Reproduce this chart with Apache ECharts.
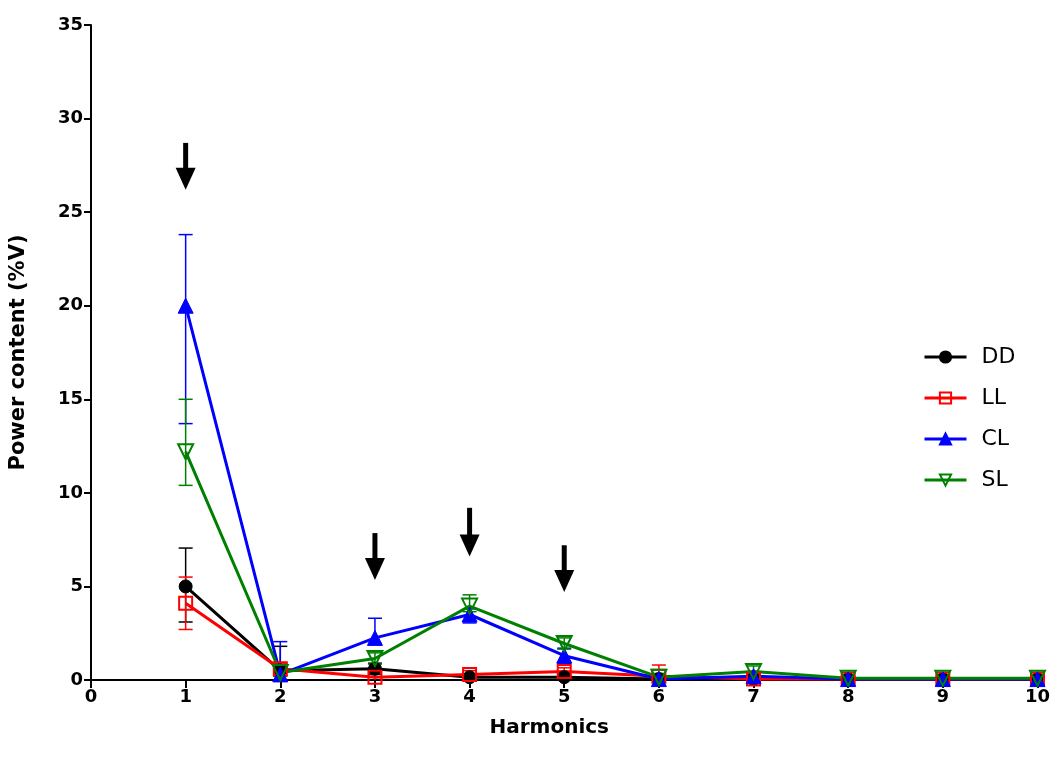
<!DOCTYPE html>
<html><head><meta charset="utf-8">
<script src="https://cdn.jsdelivr.net/npm/echarts@6/dist/echarts.min.js"></script>
<style>html,body{margin:0;padding:0;background:#fff}#c{width:1053px;height:763px}</style>
</head><body><div id="c"></div>
<script>
const harmonics = [1,2,3,4,5,6,7,8,9,10];
const xTicks = [0,1,2,3,4,5,6,7,8,9,10];
const yTicks = [0,5,10,15,20,25,30,35];
const seriesNames = ['DD','LL','CL','SL'];
const ddMean = [5.0, 0.5, 0.6, 0.15, 0.15, 0.05, 0.05, 0.05, 0.05, 0.05];
const ddUp   = [2.05, 1.3, 0.3, 0.1, 0.1, 0.1, 0.1, 0.1, 0.1, 0.1];
const ddDown = [1.9, 0.3, 0.3, 0.1, 0.1, 0.1, 0.1, 0.1, 0.1, 0.1];
const llMean = [4.1, 0.6, 0.15, 0.3, 0.45, 0.2, 0.05, 0.05, 0.05, 0.05];
const llUp   = [1.4, 0.3, 0.2, 0.2, 0.2, 0.6, 0.1, 0.1, 0.1, 0.1];
const llDown = [1.4, 0.3, 0.2, 0.2, 0.2, 0.2, 0.1, 0.1, 0.1, 0.1];
const clMean = [20.0, 0.3, 2.25, 3.5, 1.3, 0.05, 0.2, 0.05, 0.05, 0.05];
const clUp   = [3.8, 1.75, 1.05, 0.3, 0.4, 0.1, 0.1, 0.1, 0.1, 0.1];
const clDown = [6.3, 0.3, 0.3, 0.45, 0.4, 0.1, 0.1, 0.1, 0.1, 0.1];
const slMean = [12.2, 0.4, 1.15, 3.95, 1.95, 0.15, 0.45, 0.1, 0.1, 0.1];
const slUp   = [2.8, 0.2, 0.3, 0.6, 0.3, 0.2, 0.3, 0.1, 0.1, 0.1];
const slDown = [1.8, 0.2, 0.3, 0.3, 0.3, 0.1, 0.1, 0.1, 0.1, 0.1];
const arrowX = [1, 3, 4, 5];
const arrowTop = [28.7, 7.85, 9.2, 7.2];
const arrowBottom = [26.2, 5.35, 6.6, 4.7];

const colors = {DD:'#000000', LL:'#ff0000', CL:'#0000ff', SL:'#008000'};
const FONT = 'DejaVu Sans';

function lineSeries(name, mean, symbol, size, hollow, rotate) {
  return {
    name: name, type: 'line', z: 3, color: colors[name],
    data: harmonics.map((h,i)=>[h, mean[i]]),
    symbol: symbol, symbolSize: size, symbolRotate: rotate || 0,
    showAllSymbol: true,
    lineStyle: {color: colors[name], width: 3},
    itemStyle: hollow ? {color: 'rgba(255,255,255,0)', borderColor: colors[name], borderWidth: 2}
                      : {color: colors[name], borderColor: colors[name], borderWidth: 1},
    emphasis: {disabled: true}
  };
}
function errSeries(name, mean, up, down) {
  return {
    name: name + ' error', type: 'custom', z: 2, clip: true, color: colors[name],
    data: harmonics.map((h,i)=>[h, mean[i]-down[i], mean[i]+up[i]]),
    renderItem: function(params, api) {
      const lo = api.coord([api.value(0), api.value(1)]);
      const hi = api.coord([api.value(0), api.value(2)]);
      const hw = 7;
      const st = {stroke: colors[name], lineWidth: 1.5};
      return {type: 'group', children: [
        {type: 'line', shape: {x1: lo[0], y1: lo[1], x2: hi[0], y2: hi[1]}, style: st},
        {type: 'line', shape: {x1: hi[0]-hw, y1: hi[1], x2: hi[0]+hw, y2: hi[1]}, style: st},
        {type: 'line', shape: {x1: lo[0]-hw, y1: lo[1], x2: lo[0]+hw, y2: lo[1]}, style: st}
      ]};
    },
    silent: true
  };
}

const option = {
  animation: false,
  backgroundColor: '#ffffff',
  grid: {left: 90, right: 12, top: 25, bottom: 83},
  legend: {
    orient: 'vertical', left: 918, top: 341,
    itemWidth: 42, itemHeight: 14, itemGap: 19,
    data: seriesNames,
    lineStyle: {width: 3},
    textStyle: {fontFamily: FONT, fontSize: 22, color: '#000', padding: [0,0,0,10]}
  },
  xAxis: {
    type: 'value', min: 0, max: 10, interval: 1,
    name: 'Harmonics', nameLocation: 'middle', nameGap: 38,
    nameTextStyle: {fontFamily: FONT, fontWeight: 'bold', fontSize: 20, color: '#000', padding: [0, 30, 0, 0]},
    axisLine: {show: true, onZero: false, lineStyle: {color: '#000', width: 2}},
    axisTick: {show: true, length: 8, lineStyle: {color: '#000', width: 2}},
    axisLabel: {fontFamily: FONT, fontWeight: 'bold', fontSize: 18, color: '#000', margin: 8,
      formatter: v => xTicks.includes(v) ? String(v) : ''},
    splitLine: {show: false}
  },
  yAxis: {
    type: 'value', min: 0, max: 35, interval: 5,
    name: 'Power content (%V)', nameLocation: 'middle', nameGap: 62,
    nameTextStyle: {fontFamily: FONT, fontWeight: 'bold', fontSize: 21, color: '#000'},
    axisLine: {show: true, lineStyle: {color: '#000', width: 2}},
    axisTick: {show: true, length: 7, lineStyle: {color: '#000', width: 2}},
    axisLabel: {fontFamily: FONT, fontWeight: 'bold', fontSize: 18, color: '#000', margin: 8,
      formatter: v => yTicks.includes(v) ? String(v) : ''},
    splitLine: {show: false}
  },
  series: [
    errSeries('DD', ddMean, ddUp, ddDown),
    errSeries('LL', llMean, llUp, llDown),
    errSeries('CL', clMean, clUp, clDown),
    errSeries('SL', slMean, slUp, slDown),
    lineSeries('DD', ddMean, 'circle', 13, false),
    lineSeries('LL', llMean, 'rect', 13, true),
    lineSeries('CL', clMean, 'triangle', 15, false),
    lineSeries('SL', slMean, 'triangle', 15, true, 180),
    {
      name: 'arrows', type: 'custom', z: 4, silent: true,
      data: arrowX.map((x,i)=>[x, arrowTop[i], arrowBottom[i]]),
      renderItem: function(params, api) {
        const t = api.coord([api.value(0), api.value(1)]);
        const b = api.coord([api.value(0), api.value(2)]);
        const headH = 22, headW = 10, sw = 2.5;
        return {type: 'group', children: [
          {type: 'rect', shape: {x: t[0]-sw, y: t[1], width: sw*2, height: (b[1]-headH) - t[1] + 2}, style: {fill: '#000'}},
          {type: 'polygon', shape: {points: [[b[0]-headW, b[1]-headH], [b[0]+headW, b[1]-headH], [b[0], b[1]]]}, style: {fill: '#000'}}
        ]};
      }
    }
  ]
};
const chart = echarts.init(document.getElementById('c'), null, {renderer: 'canvas'});
chart.setOption(option);
</script>
</body></html>
